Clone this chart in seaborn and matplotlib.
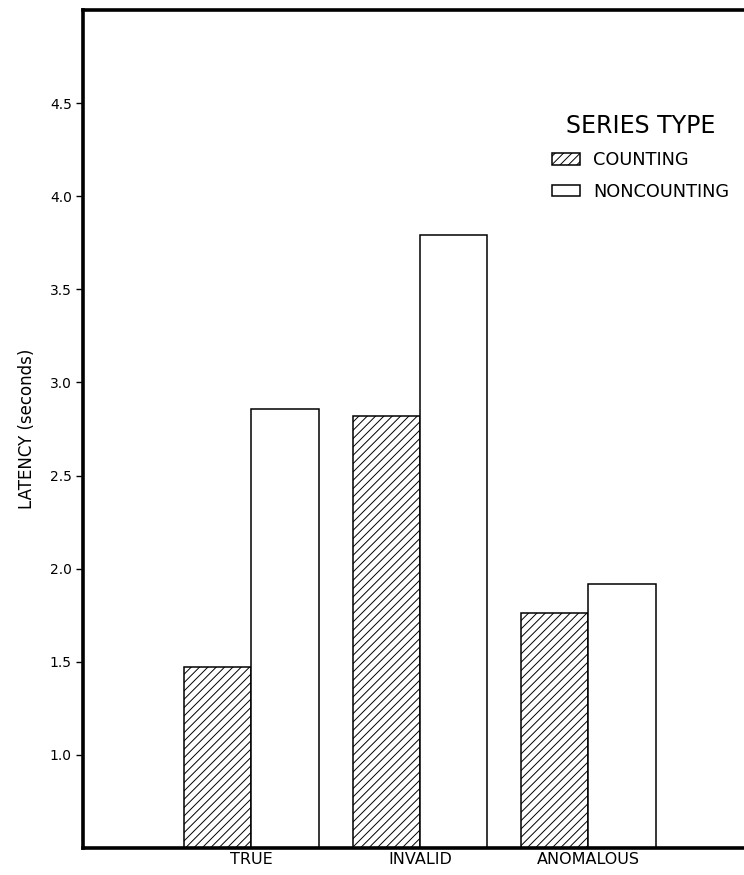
import pandas as pd
import seaborn as sns
import matplotlib.pyplot as plt

# data
problem_types = ["TRUE", "INVALID", "ANOMALOUS"]
series_types = ["COUNTING", "NONCOUNTING"]
counting = [1.47, 2.82, 1.76]
noncounting = [2.86, 3.79, 1.92]
yticks = [1.0, 1.5, 2.0, 2.5, 3.0, 3.5, 4.0, 4.5]

df = pd.DataFrame({
    "type": problem_types * 2,
    "series": [series_types[0]] * 3 + [series_types[1]] * 3,
    "latency": counting + noncounting,
})

sns.set_style("white")
plt.rcParams["font.family"] = ["DejaVu Sans"]
plt.rcParams["hatch.linewidth"] = 0.7
plt.rcParams["text.color"] = "black"
plt.rcParams["axes.labelcolor"] = "black"
plt.rcParams["xtick.color"] = "black"
plt.rcParams["ytick.color"] = "black"

fig = plt.figure(figsize=(7.44, 8.75), dpi=100)
ax = fig.add_axes([83 / 744, 27 / 875, 674 / 744, 838 / 875])

sns.barplot(data=df, x="type", y="latency", hue="series", order=problem_types,
            hue_order=series_types, palette=["white", "white"], edgecolor="black",
            linewidth=1.1, width=0.8, saturation=1, ax=ax)

#hatch the counting bars
for bar in ax.containers[0]:
    bar.set_hatch("////")

ax.set_xlim(-1.0, 3.0)
ax.set_ylim(0.5, 5.0)
ax.set_yticks(yticks)
ax.set_yticklabels(["%.1f" % t for t in yticks], fontsize=10)
ax.set_xlabel("")
ax.set_ylabel("LATENCY (seconds)", fontsize=12, labelpad=10)
ax.tick_params(axis="x", length=0, labelsize=11.5, pad=3)
ax.tick_params(axis="y", left=True, length=5, width=1, direction="out", pad=3)

for side in ["left", "bottom", "top"]:
    ax.spines[side].set_linewidth(2.6)
    ax.spines[side].set_color("black")
ax.spines["right"].set_visible(False)

if ax.get_legend() is not None:
    ax.get_legend().remove()
leg = fig.legend(handles=ax.containers, labels=series_types, title="SERIES TYPE",
                 loc="upper left", bbox_to_anchor=(552 / 744, 1 - 114 / 875),
                 frameon=False, fontsize=12.8, title_fontsize=17, borderpad=0,
                 borderaxespad=0, handlelength=1.6, handleheight=0.6,
                 handletextpad=0.7, labelspacing=0.75)

plt.savefig("out.png", dpi=100)
plt.close()
